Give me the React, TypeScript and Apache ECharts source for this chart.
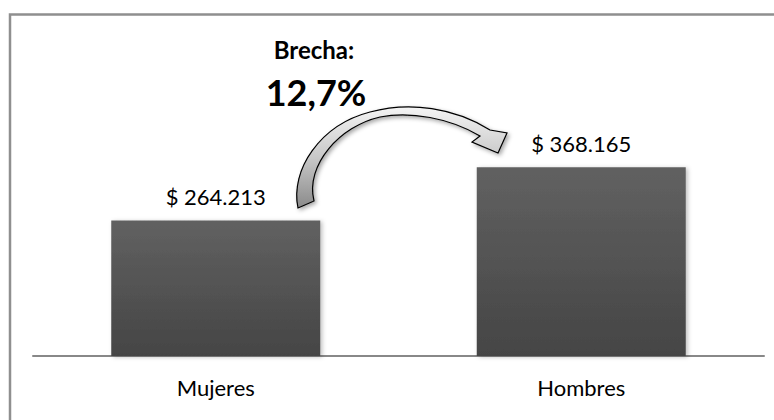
import React, { useEffect, useRef } from "react";
import * as echarts from "echarts";

const categories = ["Mujeres", "Hombres"];
const values = [264213, 368165];
const valueLabels = ["$ 264.213", "$ 368.165"];
const gapTitle = "Brecha:";
const gapValue = "12,7%";

const FONT = "Lato, 'Open Sans', sans-serif";

const arrowPath =
  "M 298 208 C 290 170 320 125 370 112 C 410 101 455 108 490 130 L 507 133 L 498 153 L 472 142 L 480 136 C 450 118 410 111 380 117 C 340 126 305 165 314 201 Z";

let registered = false;
function registerArrow() {
  if (registered) return;
  echarts.graphic.registerShape("gapArrow", echarts.graphic.extendPath(arrowPath, {}) as any);
  registered = true;
}

export default function App() {
  const ref = useRef<HTMLDivElement>(null);
  useEffect(() => {
    if (!ref.current) return;
    registerArrow();
    const chart = echarts.init(ref.current, undefined, { renderer: "svg" });
    chart.setOption({
      animation: false,
      backgroundColor: "#ffffff",
      grid: { left: 33, right: 10, top: 151, bottom: 64 },
      xAxis: {
        type: "category",
        data: categories,
        axisLine: { show: true, lineStyle: { color: "#888888", width: 2 } },
        axisTick: { show: false },
        axisLabel: { color: "#000000", fontFamily: FONT, fontSize: 22, margin: 20 },
      },
      yAxis: {
        type: "value",
        min: 0,
        max: 400000,
        show: false,
        splitLine: { show: false },
      },
      series: [
        {
          type: "bar",
          data: values,
          barWidth: 209,
          itemStyle: {
            color: new echarts.graphic.LinearGradient(0, 0, 0, 1, [
              { offset: 0, color: "#616161" },
              { offset: 1, color: "#454545" },
            ]),
            shadowColor: "rgba(0,0,0,0.25)",
            shadowBlur: 4,
            shadowOffsetX: 2,
            shadowOffsetY: 1,
          },
          label: {
            show: true,
            position: "top",
            distance: 13,
            color: "#000000",
            fontFamily: FONT,
            fontSize: 22,
            formatter: (p: any) => valueLabels[p.dataIndex],
          },
        },
      ],
      graphic: [
        {
          type: "rect",
          silent: true,
          shape: { x: 10, y: 14.5, width: 800, height: 500 },
          style: { fill: "none", stroke: "#8f8f8f", lineWidth: 2.5 },
          z: 100,
        },
        {
          type: "gapArrow",
          x: 0,
          y: 0,
          style: {
            fill: new echarts.graphic.LinearGradient(0, 0, 0, 1, [
              { offset: 0, color: "#f4f4f4" },
              { offset: 0.5, color: "#c8c8c8" },
              { offset: 1, color: "#8a8a8a" },
            ]),
            stroke: "#000000",
            lineWidth: 1.2,
            shadowColor: "rgba(0,0,0,0.35)",
            shadowBlur: 4,
            shadowOffsetX: 2,
            shadowOffsetY: 2,
          },
          z: 50,
        },
        {
          type: "text",
          x: 314,
          y: 49,
          style: {
            text: gapTitle,
            fill: "#000000",
            font: `bold 24px ${FONT}`,
            textAlign: "center",
            textVerticalAlign: "middle",
          },
          z: 60,
        },
        {
          type: "text",
          x: 316,
          y: 92,
          style: {
            text: gapValue,
            fill: "#000000",
            font: `bold 36px ${FONT}`,
            textAlign: "center",
            textVerticalAlign: "middle",
          },
          z: 60,
        },
      ],
    });
    return () => chart.dispose();
  }, []);
  return (
    <div
      ref={ref}
      style={{ position: "absolute", left: 0, top: 0, width: 774, height: 420 }}
    />
  );
}
